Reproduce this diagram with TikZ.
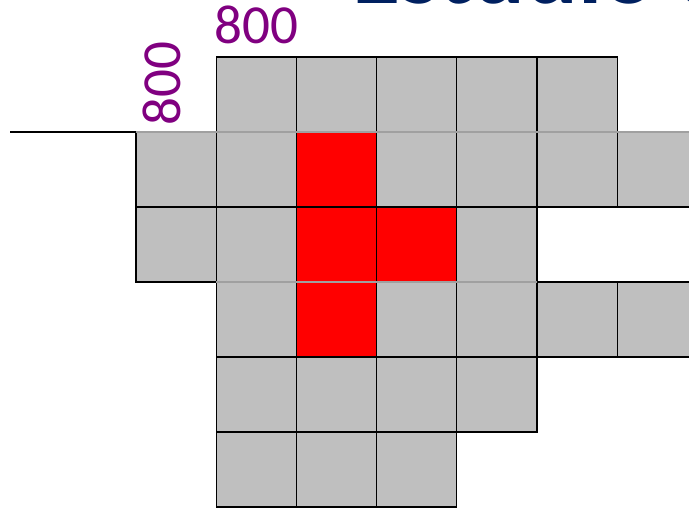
\documentclass[tikz,border=0pt]{standalone}
\usepackage{fontspec}
\setmainfont{Carlito}
\definecolor{cellgray}{RGB}{191,191,191}
\definecolor{seamgray}{RGB}{160,160,160}
\definecolor{labelpurple}{RGB}{128,0,128}
\definecolor{titlenavy}{RGB}{0,32,96}

\begin{document}
\begin{tikzpicture}[
    x=0.03cm, y=-0.03cm,
    cell/.style={
        rectangle, draw=black, line width=1.1pt,
        fill=cellgray, anchor=north west,
        inner sep=0pt, outer sep=0pt,
        minimum width=2.406cm, minimum height=2.25cm
    },
    hot/.style={fill=red},
    cell 1-2/.style=hot,
    cell 2-2/.style=hot,
    cell 2-3/.style=hot,
    cell 3-2/.style=hot,
    seam/.style={draw=seamgray, line width=1.1pt},
    edge/.style={draw=black, line width=1.1pt},
    size label/.style={text=labelpurple, inner sep=0pt,
        font=\fontsize{47}{50}\selectfont}
]
\useasboundingbox (0,0) rectangle (689,508);
\clip (0,0) rectangle (689,508);

% title, cut by the top of the picture
\node[anchor=base west, inner sep=0pt, text=titlenavy,
      font=\fontsize{84}{88}\selectfont\bfseries] (title) at (352,4) {Estudio de};

% --- grid of cells, row by row ---
\foreach \r/\cols in {0/{1,2,3,4,5}, 1/{0,1,2,3,4,5,6}, 2/{0,1,2,3,4},
                      3/{1,2,3,4,5,6}, 4/{1,2,3,4}, 5/{1,2,3}}
  \foreach \c in \cols
    \node[cell, cell \r-\c/.try] (r\r c\c) at (136+80.2*\c, 57+75*\r) {};

% light seams between row pairs
\draw[seam] (r1c0.north west) -- (r1c6.north east);
\draw[seam] (r3c1.north west) -- (r3c4.north east);

% lead-in line on the left
\coordinate (lead) at (10,132);
\draw[edge] (lead) -- (r1c0.north west);

% --- size labels ---
\node[size label] (toplen) at (256.5,24.5) {800};
\node[size label, rotate=90] (sidelen) at (161.5,83.5) {800};

\end{tikzpicture}
\end{document}
